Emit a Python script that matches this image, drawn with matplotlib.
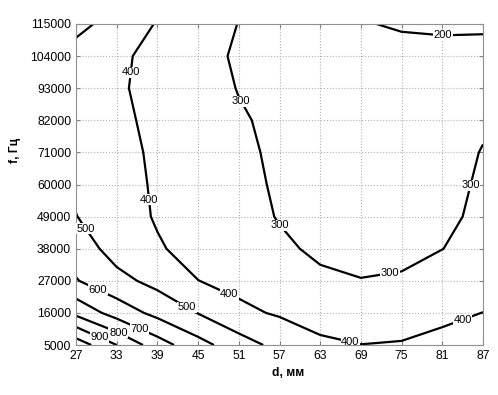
import numpy as np
import matplotlib
matplotlib.use("Agg")
import matplotlib.pyplot as plt

plt.rcParams['font.family'] = ['Liberation Sans', 'DejaVu Sans']

# grid of the measurements: d in mm, f in Hz
d_mm = [27, 33, 39, 45, 51, 57, 63, 69, 75, 81, 87]
f_hz = [5000, 16000, 27000, 38000, 49000, 60000, 71000, 82000, 93000, 104000, 115000]

# values, one row per frequency (bottom to top)
z_5000 = [1060, 900, 745, 635, 545, 470, 415, 401, 406, 425, 445]
z_16000 = [775, 657, 572, 497, 420, 390, 367, 353, 359, 380, 401]
z_27000 = [606, 530, 470, 401, 375, 356, 312, 301, 305, 340, 360]
z_38000 = [555, 460, 410, 365, 350, 312, 288, 290, 288, 299, 330]
z_49000 = [502, 447, 391, 359, 327, 296, 283, 280, 278, 288, 312]
z_60000 = [485, 440, 387, 355, 322, 290, 275, 270, 268, 277, 310]
z_71000 = [465, 432, 383, 350, 317, 285, 268, 260, 258, 265, 304]
z_82000 = [450, 422, 376, 342, 308, 283, 260, 250, 248, 253, 288]
z_93000 = [440, 412, 372, 334, 297, 280, 252, 238, 238, 240, 265]
z_104000 = [440, 413, 380, 334, 287, 275, 245, 225, 225, 222, 232]
z_115000 = [545, 440, 396, 347, 298, 269, 239, 205, 192, 188, 185]

levels = [200, 300, 400, 500, 600, 700, 800, 900, 1000]

# where the labels sit
label_pos = [(81.1, 110500), (51.2, 88300), (56.8, 45400), (73.3, 29000),
             (85.1, 59800), (34.7, 98500), (37.6, 54700), (49.4, 21400),
             (67.4, 5700), (84.1, 12900), (27.7, 43700), (43.1, 17000),
             (30.1, 23200), (36.3, 10500), (33.2, 9100), (30.5, 7700)]

x_labels = [str(v) for v in d_mm]
y_labels = [str(v) for v in f_hz]

Z = np.array([z_5000, z_16000, z_27000, z_38000, z_49000, z_60000,
              z_71000, z_82000, z_93000, z_104000, z_115000])

fig = plt.figure(figsize=(4.98, 3.95), dpi=100)
ax = fig.add_axes([76 / 498, 50 / 395, 407 / 498, 321 / 395])

cs = ax.contour(d_mm, f_hz, Z, levels=levels, colors='black', linewidths=1.6)
texts = ax.clabel(cs, fmt='%d', fontsize=8, inline=False, manual=label_pos)
# matlab style: flat labels that cut the line
for t in texts:
    t.set_rotation(0)
    t.set_bbox(dict(facecolor='white', edgecolor='none', pad=0.4))

ax.set_xlim(27, 87)
ax.set_ylim(5000, 115000)
ax.set_xticks(d_mm)
ax.set_xticklabels(x_labels)
ax.set_yticks(f_hz)
ax.set_yticklabels(y_labels)
ax.tick_params(direction='in', length=3, labelsize=8.7, color='#808080',
               top=True, right=True)
ax.grid(True, linestyle=':', color='#b0b0b0', linewidth=0.8)
for s in ax.spines.values():
    s.set_color('#909090')

ax.set_xlabel('d, мм', fontsize=8.7, fontweight='bold')
ax.set_ylabel('f, Гц', fontsize=8.7, fontweight='bold')
ax.xaxis.set_label_coords(0.52, -0.07)
ax.yaxis.set_label_coords(-0.135, 0.607)

fig.savefig('out.png', dpi=100)
